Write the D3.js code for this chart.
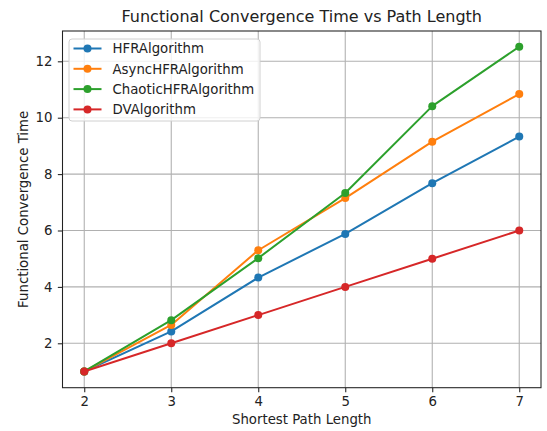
<!DOCTYPE html>
<html><head><meta charset="utf-8">
<script src="https://cdn.jsdelivr.net/npm/d3@7"></script>
<style>body{margin:0;background:#fff}svg{display:block}text{font-family:"DejaVu Sans",sans-serif;fill:#222}</style>
</head><body><svg id="c" width="547" height="431"></svg>
<script>
const pathLengths = [2, 3, 4, 5, 6, 7];
const hfr = [1.0, 2.42, 4.33, 5.88, 7.68, 9.33];
const asyncHfr = [1.0, 2.65, 5.3, 7.15, 9.15, 10.84];
const chaoticHfr = [1.0, 2.82, 5.02, 7.33, 10.41, 12.52];
const dv = [1.0, 2.0, 3.0, 4.0, 5.0, 6.0];
const seriesNames = ["HFRAlgorithm", "AsyncHFRAlgorithm", "ChaoticHFRAlgorithm", "DVAlgorithm"];
const seriesColors = ["#1f77b4", "#ff7f0e", "#2ca02c", "#d62728"];
const xTicks = [2, 3, 4, 5, 6, 7];
const yTicks = [2, 4, 6, 8, 10, 12];

const series = [hfr, asyncHfr, chaoticHfr, dv].map((v, i) => ({name: seriesNames[i], color: seriesColors[i], values: v}));
const svg = d3.select("#c");
const L = 62.5, R = 541, T = 31, B = 387.7;
const FS = "13.3px";
const x = d3.scaleLinear().domain([1.75, 7.25]).range([L, R]);
const y = d3.scaleLinear().domain([0.425, 13.075]).range([B, T]);

// grid
const g = svg.append("g");
g.selectAll(".gx").data(xTicks).join("line").attr("x1", d => x(d)).attr("x2", d => x(d)).attr("y1", T).attr("y2", B).attr("stroke", "#b0b0b0").attr("stroke-width", 1.07);
g.selectAll(".gy").data(yTicks).join("line").attr("y1", d => y(d)).attr("y2", d => y(d)).attr("x1", L).attr("x2", R).attr("stroke", "#b0b0b0").attr("stroke-width", 1.07);

// axes
const xa = svg.append("g").attr("transform", `translate(0,${B})`).call(d3.axisBottom(x).tickValues(xTicks).tickSize(4.67).tickPadding(4.4).tickFormat(d3.format("d")));
const ya = svg.append("g").attr("transform", `translate(${L},0)`).call(d3.axisLeft(y).tickValues(yTicks).tickSize(4.67).tickPadding(5.5).tickFormat(d3.format("d")));
[xa, ya].forEach(a => {
  a.select(".domain").remove();
  a.selectAll("line").attr("stroke", "#222").attr("stroke-width", 1.07);
  a.selectAll("text").attr("font-size", FS).attr("fill", "#222").attr("font-family", '"DejaVu Sans",sans-serif');
});
svg.append("rect").attr("x", L).attr("y", T).attr("width", R - L).attr("height", B - T).attr("fill", "none").attr("stroke", "#222").attr("stroke-width", 1.07);

// lines
const line = d3.line().x((d, i) => x(pathLengths[i])).y(d => y(d));
series.forEach(s => {
  svg.append("path").datum(s.values).attr("d", line).attr("fill", "none").attr("stroke", s.color).attr("stroke-width", 2).attr("stroke-linejoin", "round").attr("stroke-linecap", "square");
  svg.append("g").selectAll("circle").data(s.values).join("circle").attr("cx", (d, i) => x(pathLengths[i])).attr("cy", d => y(d)).attr("r", 4).attr("fill", s.color);
});

// title and labels
svg.append("text").attr("x", (L + R) / 2).attr("y", 22).attr("text-anchor", "middle").attr("font-size", "16px").text("Functional Convergence Time vs Path Length");
svg.append("text").attr("x", (L + R) / 2).attr("y", 424).attr("text-anchor", "middle").attr("font-size", FS).text("Shortest Path Length");
svg.append("text").attr("transform", `translate(27.5,${(T + B) / 2}) rotate(-90)`).attr("text-anchor", "middle").attr("font-size", FS).text("Functional Convergence Time");

// legend
const lg = svg.append("g");
lg.append("rect").attr("x", 69).attr("y", 39).attr("width", 191).attr("height", 82).attr("rx", 3).attr("fill", "#fff").attr("fill-opacity", 0.8).attr("stroke", "#d0d0d0").attr("stroke-width", 1);
series.forEach((s, i) => {
  const yy = 48.5 + i * 20.3;
  lg.append("line").attr("x1", 73.5).attr("x2", 101.5).attr("y1", yy).attr("y2", yy).attr("stroke", s.color).attr("stroke-width", 2);
  lg.append("circle").attr("cx", 87.5).attr("cy", yy).attr("r", 4).attr("fill", s.color);
  lg.append("text").attr("x", 112.5).attr("y", yy + 4.8).attr("font-size", FS).text(s.name);
});
</script></body></html>
